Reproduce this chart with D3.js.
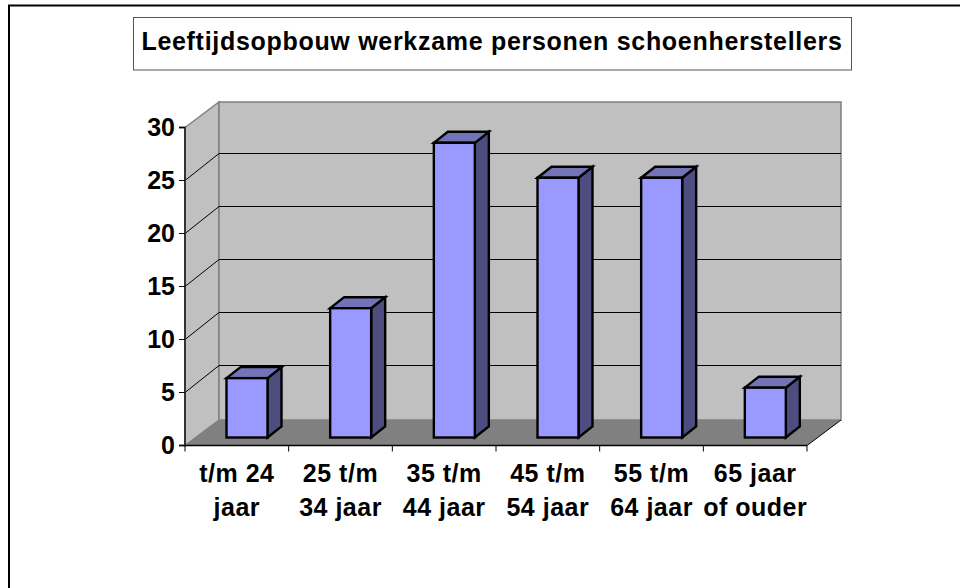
<!DOCTYPE html>
<html><head><meta charset="utf-8">
<style>html,body{margin:0;padding:0;background:#fff}svg{display:block}
text{font-family:"Liberation Sans",Arial,sans-serif;font-weight:bold;fill:#000}</style>
<script src="https://cdn.jsdelivr.net/npm/d3@7"></script></head><body>
<script>
const titleText = "Leeftijdsopbouw werkzame personen schoenherstellers";
const categories = ["t/m 24|jaar","25 t/m|34 jaar","35 t/m|44 jaar","45 t/m|54 jaar","55 t/m|64 jaar","65 jaar|of ouder"];
const values = [5.6, 12.2, 27.8, 24.5, 24.5, 4.7];
const yTicks = [0,5,10,15,20,25,30];

const W=960,H=588;
const svg=d3.select("body").append("svg").attr("width",W).attr("height",H);
const depthX=34, depthY=-25.5, gridDepthY=-27;
const x=d3.scaleBand().domain(categories).range([185,807]);
const y=d3.scaleLinear().domain([0,30]).range([445.5,127.5]);
const barW=41, barOff=41.5, bdx=14, bdy=-11, baseLift=8;
const poly=(pts)=>pts.map(p=>p.join(",")).join(" ");
const FS=25;

// outer frame
svg.append("path").attr("d","M9,588V5.5H960").attr("fill","none").attr("stroke","#000").attr("stroke-width",2);

// title
svg.append("rect").attr("x",133.5).attr("y",17.5).attr("width",718).attr("height",52.5).attr("fill","#fff").attr("stroke","#555").attr("stroke-width",1);
svg.append("text").attr("x",492).attr("y",50).attr("text-anchor","middle").attr("font-size",FS).attr("letter-spacing",0.7).text(titleText);

const x0=x.range()[0], x1=x.range()[1], y0=y(0), yT=y(30);
// side wall, back wall, floor
svg.append("polygon").attr("points",poly([[x0,y0],[x0+depthX,y0+depthY],[x0+depthX,yT+depthY],[x0,yT]])).attr("fill","#c0c0c0").attr("stroke","#808080").attr("stroke-width",1.5);
svg.append("polygon").attr("points",poly([[x0+depthX,y0+depthY],[x1+depthX,y0+depthY],[x1+depthX,yT+depthY],[x0+depthX,yT+depthY]])).attr("fill","#c0c0c0").attr("stroke","#808080").attr("stroke-width",1.5);
svg.append("polygon").attr("points",poly([[x0,y0],[x0+depthX,y0+depthY],[x1+depthX,y0+depthY],[x1,y0]])).attr("fill","#808080");

// gridlines
yTicks.filter(t=>t>0&&t<30).forEach(t=>{
  svg.append("path").attr("d",`M${x0},${y(t)}L${x0+depthX},${y(t)+gridDepthY}H${x1+depthX}`).attr("fill","none").attr("stroke","#000").attr("stroke-width",1);
});

// right edge of the floor
svg.append("line").attr("x1",x1).attr("y1",y0).attr("x2",x1+depthX).attr("y2",y0+depthY).attr("stroke","#000").attr("stroke-width",1);

// bars
const bars=svg.selectAll("g.bar").data(values).join("g").attr("class","bar");
bars.each(function(v,i){
  const g=d3.select(this);
  const l=x(categories[i])+barOff, r=l+barW, b=y0-baseLift, t=y(v)-baseLift;
  const common=s=>s.attr("stroke","#000").attr("stroke-width",2.4).attr("stroke-linejoin","miter");
  common(g.append("polygon").attr("points",poly([[r,t],[r+bdx,t+bdy],[r+bdx,b+bdy],[r,b]])).attr("fill","#4d4d80"));
  common(g.append("polygon").attr("points",poly([[l,t],[l+bdx,t+bdy],[r+bdx,t+bdy],[r,t]])).attr("fill","#7373b8"));
  common(g.append("rect").attr("x",l).attr("y",t).attr("width",barW).attr("height",b-t).attr("fill","#9999ff"));
});

// axes
const yAxis=d3.axisLeft(y).tickValues(yTicks).tickSize(6).tickPadding(4).offset(0);
const gy=svg.append("g").attr("transform",`translate(${x0},0)`).call(yAxis);
gy.selectAll("text").attr("font-size",FS).style("font-family",'"Liberation Sans",Arial,sans-serif').style("font-weight","bold").attr("dy","0.34em");
gy.selectAll("line").attr("stroke","#000");
const xAxis=d3.axisBottom(x).tickValues([]).tickSizeOuter(0).offset(0);
const gx=svg.append("g").attr("transform",`translate(0,${y0})`).call(xAxis);
[...categories.map(c=>x(c)),x1].forEach(p=>{
  svg.append("line").attr("x1",p).attr("x2",p).attr("y1",y0).attr("y2",y0+6).attr("stroke","#000").attr("stroke-width",1);
});
gy.select(".domain").attr("stroke","#333").attr("stroke-width",2);
gx.select(".domain").attr("stroke","#000").attr("stroke-width",1.5);

// category labels
categories.forEach(c=>{
  const [a,b]=c.split("|");
  const cx=x(c)+x.bandwidth()/2;
  const t=svg.append("text").attr("text-anchor","middle").attr("font-size",FS).attr("letter-spacing",0.5);
  t.append("tspan").attr("x",cx).attr("y",482).text(a);
  t.append("tspan").attr("x",cx).attr("y",516).text(b);
});
</script></body></html>
